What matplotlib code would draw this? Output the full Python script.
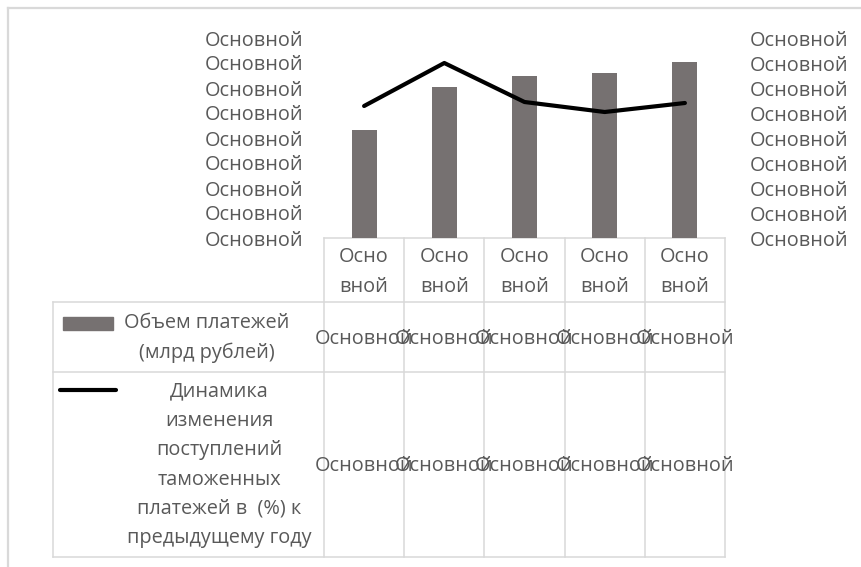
import numpy as np
import matplotlib.pyplot as plt
from matplotlib.patches import Rectangle

plt.rcParams['font.family'] = ['Open Sans', 'DejaVu Sans']

categories = ['Основной', 'Основной', 'Основной', 'Основной', 'Основной']
payments = [4.32, 6.04, 6.48, 6.60, 7.04]
dynamics = [5.28, 7.00, 5.44, 5.04, 5.40]
left_ticks = ['Основной'] * 9
right_ticks = ['Основной'] * 9
table_payments = ['Основной'] * 5
table_dynamics = ['Основной'] * 5
label_payments = 'Объем платежей\n(млрд рублей)'
label_dynamics = ('Динамика\nизменения\nпоступлений\nтаможенных\n'
                  'платежей в  (%) к\nпредыдущему году')

W, H = 861, 567
text_color = '#595959'
grid_color = '#d9d9d9'
bar_color = '#767171'
fs = 14.3
ls = 1.62


def main():
    fig = plt.figure(figsize=(W / 100, H / 100), dpi=100)

    # plot area
    x0, x1, y_bot, y_top = 324, 725, 238, 38
    ax = fig.add_axes([x0 / W, 1 - y_bot / H, (x1 - x0) / W, (y_bot - y_top) / H])
    x = np.arange(len(categories))
    ax.bar(x, payments, width=0.31, color=bar_color, zorder=2)
    ax.set_xlim(-0.5, len(categories) - 0.5)
    ax.set_ylim(0, 8)
    ax.set_yticks(range(9))
    ax.set_yticklabels(left_ticks)
    ax.set_xticks([])
    ax.tick_params(axis='y', length=0, pad=14.5, labelsize=fs, labelcolor=text_color)
    for s in ax.spines.values():
        s.set_visible(False)
    ax.patch.set_alpha(0)

    ax2 = ax.twinx()
    ax2.plot(x, dynamics, color='black', lw=3, solid_capstyle='round', zorder=3)
    ax2.set_ylim(0, 8)
    ax2.set_yticks(range(9))
    ax2.set_yticklabels(right_ticks)
    ax2.tick_params(axis='y', length=0, pad=18, labelsize=fs, labelcolor=text_color)
    for s in ax2.spines.values():
        s.set_visible(False)

    # overlay in pixel coordinates for the data table and frame
    ov = fig.add_axes([0, 0, 1, 1], zorder=-1)
    ov.set_xlim(0, W)
    ov.set_ylim(H, 0)
    ov.axis('off')

    ov.plot([8, 8], [8, H], color=grid_color, lw=1.6)
    ov.plot([8, W], [8, 8], color=grid_color, lw=1.6)

    n = len(categories)
    edges = np.linspace(x0, x1, n + 1)
    centers = (edges[:-1] + edges[1:]) / 2
    t_left, r0, r1, r2 = 53, 302, 372, 557

    for yy, xa in [(y_bot, x0), (r0, t_left), (r1, t_left), (r2, t_left)]:
        ov.plot([xa, x1], [yy, yy], color=grid_color, lw=1.1)
    ov.plot([t_left, t_left], [r0, r2], color=grid_color, lw=1.1)
    for ex in edges:
        ov.plot([ex, ex], [y_bot, r2], color=grid_color, lw=1.1)

    for cx, cat in zip(centers, categories):
        ov.text(cx, 272, cat[:4] + '\n' + cat[4:], ha='center', va='center',
                fontsize=fs, color=text_color, linespacing=ls)
    for cx, v in zip(centers, table_payments):
        ov.text(cx, 339, v, ha='center', va='center', fontsize=fs, color=text_color)
    for cx, v in zip(centers, table_dynamics):
        ov.text(cx, 466, v, ha='center', va='center', fontsize=fs, color=text_color)

    ov.add_patch(Rectangle((63, 317), 50, 13, color=bar_color))
    ov.text(207, 338, label_payments, ha='center', va='center', fontsize=fs,
            color=text_color, linespacing=ls)
    ov.plot([60, 116], [390, 390], color='black', lw=3, solid_capstyle='round')
    ov.text(219, 465, label_dynamics, ha='center', va='center', fontsize=fs,
            color=text_color, linespacing=ls)

    fig.savefig('out.png', dpi=100)


if __name__ == '__main__':
    main()
